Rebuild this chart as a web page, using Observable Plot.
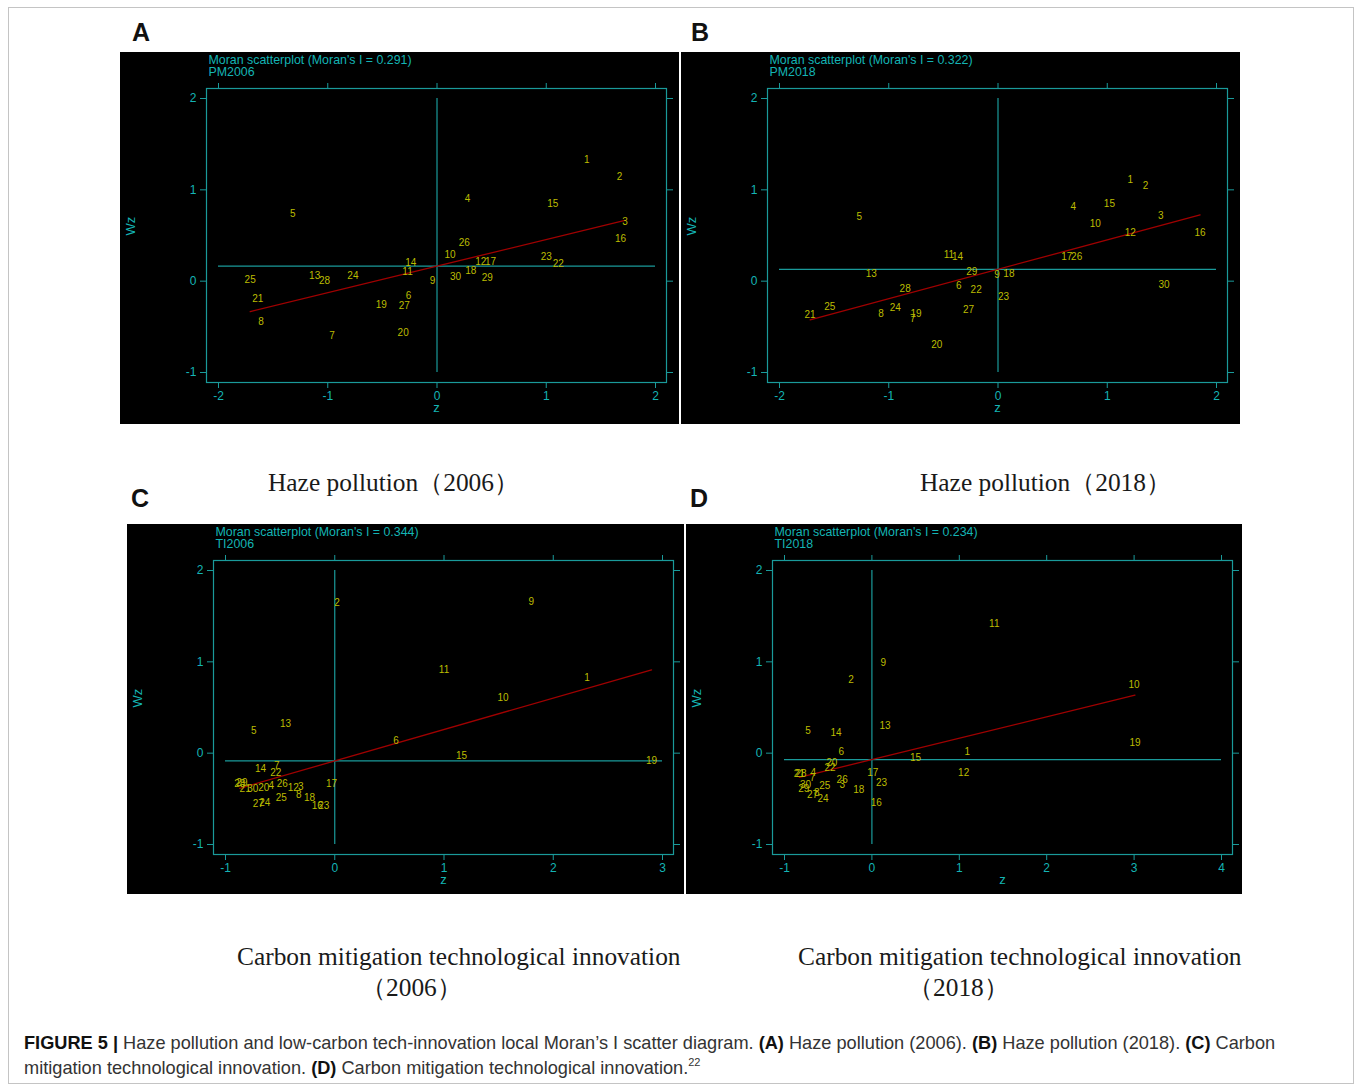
<!DOCTYPE html>
<html>
<head>
<meta charset="utf-8">
<script src="https://cdn.jsdelivr.net/npm/d3@7"></script>
<script src="https://cdn.jsdelivr.net/npm/@observablehq/plot@0.6"></script>
<style>
  body { margin: 0; background: #fff; }
  #page { position: relative; width: 1356px; height: 1085px; overflow: hidden; background: #fff; }
  .border { position: absolute; left: 8px; top: 7px; width: 1346px; height: 1077px; border: 1px solid #c4c4c4; box-sizing: border-box; }
  .panel { position: absolute; background: #000; line-height: 0; }
  .letter { position: absolute; font: bold 25px "Liberation Sans", Arial, sans-serif; line-height: 25px; color: #111; }
  .cap { position: absolute; font: 25.4px "Liberation Serif", "Times New Roman", serif; line-height: 25px; color: #1a1a1a; white-space: nowrap; }
  .fig { position: absolute; left: 24px; top: 1031px; font: 18.2px "Liberation Sans Narrow", "Arial Narrow", "Liberation Sans", sans-serif; line-height: 25px; color: #333; white-space: nowrap; }
  .fig b { color: #111; }
  .fig sup { font-size: 11px; vertical-align: 8px; line-height: 0; }
</style>
</head>
<body>
<div id="page">
  <div class="border"></div>
  <div class="letter" style="left:132px;top:20px">A</div>
  <div class="letter" style="left:691px;top:20px">B</div>
  <div class="letter" style="left:131px;top:486px">C</div>
  <div class="letter" style="left:690px;top:486px">D</div>
  <div class="panel" id="pA" style="left:120px;top:52px"></div>
  <div class="panel" id="pB" style="left:681px;top:52px"></div>
  <div class="panel" id="pC" style="left:127px;top:524px"></div>
  <div class="panel" id="pD" style="left:686px;top:524px"></div>
  <div class="cap" style="left:268px;top:470px">Haze pollution（2006）</div>
  <div class="cap" style="left:920px;top:470px">Haze pollution（2018）</div>
  <div class="cap" style="left:237px;top:944px">Carbon mitigation technological innovation</div>
  <div class="cap" style="left:361px;top:975px">（2006）</div>
  <div class="cap" style="left:798px;top:944px">Carbon mitigation technological innovation</div>
  <div class="cap" style="left:908px;top:975px">（2018）</div>
  <div class="fig"><b>FIGURE 5 |</b> Haze pollution and low-carbon tech-innovation local Moran’s I scatter diagram. <b>(A)</b> Haze pollution (2006). <b>(B)</b> Haze pollution (2018). <b>(C)</b> Carbon<br>mitigation technological innovation. <b>(D)</b> Carbon mitigation technological innovation.<sup>22</sup></div>
</div>
<script>
// Region identifiers (labels drawn at each point)
const ids = [1,2,3,4,5,6,7,8,9,10,11,12,13,14,15,16,17,18,19,20,21,22,23,24,25,26,27,28,29,30];

// Panel A: PM2006
const pm2006Z  = [1.37,1.67,1.72,0.28,-1.32,-0.26,-0.96,-1.61,-0.04,0.12,-0.27,0.40,-1.12,-0.24,1.06,1.68,0.49,0.31,-0.51,-0.31,-1.64,1.11,1.00,-0.77,-1.71,0.25,-0.30,-1.03,0.46,0.17];
const pm2006Wz = [1.33,1.14,0.65,0.90,0.74,-0.16,-0.60,-0.45,0.00,0.29,0.10,0.21,0.06,0.20,0.85,0.46,0.21,0.11,-0.26,-0.56,-0.19,0.19,0.27,0.06,0.01,0.42,-0.27,0.00,0.04,0.05];

// Panel B: PM2018
const pm2018Z  = [1.21,1.35,1.49,0.69,-1.27,-0.36,-0.78,-1.07,-0.01,0.89,-0.45,1.21,-1.16,-0.37,1.02,1.85,0.63,0.10,-0.75,-0.56,-1.72,-0.20,0.05,-0.94,-1.54,0.72,-0.27,-0.85,-0.24,1.52];
const pm2018Wz = [1.11,1.04,0.72,0.81,0.71,-0.05,-0.41,-0.36,0.07,0.63,0.29,0.53,0.08,0.27,0.85,0.53,0.27,0.08,-0.36,-0.70,-0.37,-0.09,-0.17,-0.29,-0.28,0.27,-0.31,-0.08,0.10,-0.04];

// Panel C: TI2006
const ti2006Z  = [2.31,0.02,-0.31,-0.58,-0.74,0.56,-0.53,-0.33,1.80,1.54,1.00,-0.38,-0.45,-0.68,1.16,-0.16,-0.03,-0.23,2.90,-0.65,-0.82,-0.54,-0.10,-0.64,-0.49,-0.48,-0.70,-0.87,-0.85,-0.75];
const ti2006Wz = [0.82,1.65,-0.37,-0.36,0.24,0.13,-0.14,-0.46,1.66,0.61,0.91,-0.38,0.32,-0.17,-0.03,-0.58,-0.33,-0.49,-0.08,-0.38,-0.39,-0.22,-0.58,-0.54,-0.49,-0.34,-0.55,-0.33,-0.32,-0.39];

// Panel D: TI2018
const ti2018Z  = [1.09,-0.24,-0.34,-0.67,-0.73,-0.35,-0.68,-0.63,0.13,3.00,1.40,1.05,0.15,-0.41,0.50,0.05,0.01,-0.15,3.01,-0.46,-0.83,-0.48,0.11,-0.56,-0.54,-0.34,-0.68,-0.81,-0.78,-0.76];
const ti2018Wz = [0.01,0.80,-0.35,-0.21,0.24,0.01,-0.27,-0.43,0.99,0.75,1.42,-0.21,0.30,0.22,-0.05,-0.54,-0.22,-0.40,0.11,-0.10,-0.23,-0.16,-0.32,-0.50,-0.36,-0.29,-0.46,-0.23,-0.39,-0.35];

// Panel-level statistics
const panelVars  = ["PM2006", "PM2018", "TI2006", "TI2018"];
const moranI     = [0.291, 0.322, 0.344, 0.234];
const meanWz     = [0.165, 0.13, -0.085, -0.07];
const meanZ      = [0, 0, 0, 0];
const xDomains   = [[-2, 2], [-2, 2], [-1, 3], [-1, 4]];
const xTickSets  = [[-2,-1,0,1,2], [-2,-1,0,1,2], [-1,0,1,2,3], [-1,0,1,2,3,4]];
const yTicks     = [-1, 0, 1, 2];
const yDomain    = [-1, 2];

const FRAME = "#1a9a9a", TXT = "#14b4b4", YEL = "#bcbc00", RED = "#a00000";
const FONT = "'Liberation Sans', Arial, sans-serif";

function moranPlot(k, zs, wzs, w, h) {
  const data = ids.map((id, i) => ({id, z: zs[i], wz: wzs[i]}));
  const [zmin, zmax] = d3.extent(zs);
  const fit = [zmin, zmax].map(z => ({z, wz: meanWz[k] + moranI[k] * (z - meanZ[k])}));
  const fmt = d => String(d);
  return Plot.plot({
    width: w, height: h,
    marginLeft: 86, marginRight: w - 546, marginTop: 36, marginBottom: h - 330,
    style: {background: "#000", color: TXT, fontFamily: FONT, fontSize: "12px"},
    x: {domain: xDomains[k], insetLeft: 12, insetRight: 11},
    y: {domain: yDomain, insetTop: 10, insetBottom: 10},
    marks: [
      Plot.frame({stroke: FRAME, strokeWidth: 1.2}),
      Plot.axisX({anchor: "bottom", ticks: xTickSets[k], tickFormat: fmt, tickSize: 6, tickPadding: 3, label: null, stroke: FRAME, fill: TXT}),
      Plot.axisX({anchor: "top", ticks: xTickSets[k], tickFormat: () => "", tickSize: 6, label: null, stroke: FRAME}),
      Plot.axisY({anchor: "left", ticks: yTicks, tickFormat: fmt, tickSize: 6, tickPadding: 4, label: null, stroke: FRAME, fill: TXT}),
      Plot.axisY({anchor: "right", ticks: yTicks, tickFormat: () => "", tickSize: 6, label: null, stroke: FRAME}),
      Plot.ruleY([meanWz[k]], {x1: xDomains[k][0], x2: xDomains[k][1], stroke: FRAME, strokeWidth: 1.2}),
      Plot.ruleX([meanZ[k]], {y1: yDomain[0], y2: yDomain[1], stroke: FRAME, strokeWidth: 1.2}),
      Plot.line(fit, {x: "z", y: "wz", stroke: RED, strokeWidth: 1.3}),
      Plot.text(data, {x: "z", y: "wz", text: "id", fill: YEL, fontSize: 10}),
      Plot.text(["z"], {frameAnchor: "bottom", lineAnchor: "middle", dy: 25, fill: TXT, fontSize: 13}),
      Plot.text(["Wz"], {frameAnchor: "left", lineAnchor: "middle", rotate: -90, dx: -76, fill: TXT, fontSize: 13}),
      Plot.text([`Moran scatterplot (Moran's I = ${moranI[k].toFixed(3)})`], {frameAnchor: "top-left", textAnchor: "start", lineAnchor: "middle", dx: 2, dy: -28, fill: TXT, fontSize: 12.4}),
      Plot.text([panelVars[k]], {frameAnchor: "top-left", textAnchor: "start", lineAnchor: "middle", dx: 2, dy: -16, fill: TXT, fontSize: 12.4})
    ]
  });
}

document.getElementById("pA").append(moranPlot(0, pm2006Z, pm2006Wz, 559, 372));
document.getElementById("pB").append(moranPlot(1, pm2018Z, pm2018Wz, 559, 372));
document.getElementById("pC").append(moranPlot(2, ti2006Z, ti2006Wz, 557, 370));
document.getElementById("pD").append(moranPlot(3, ti2018Z, ti2018Wz, 556, 370));
</script>
</body>
</html>
